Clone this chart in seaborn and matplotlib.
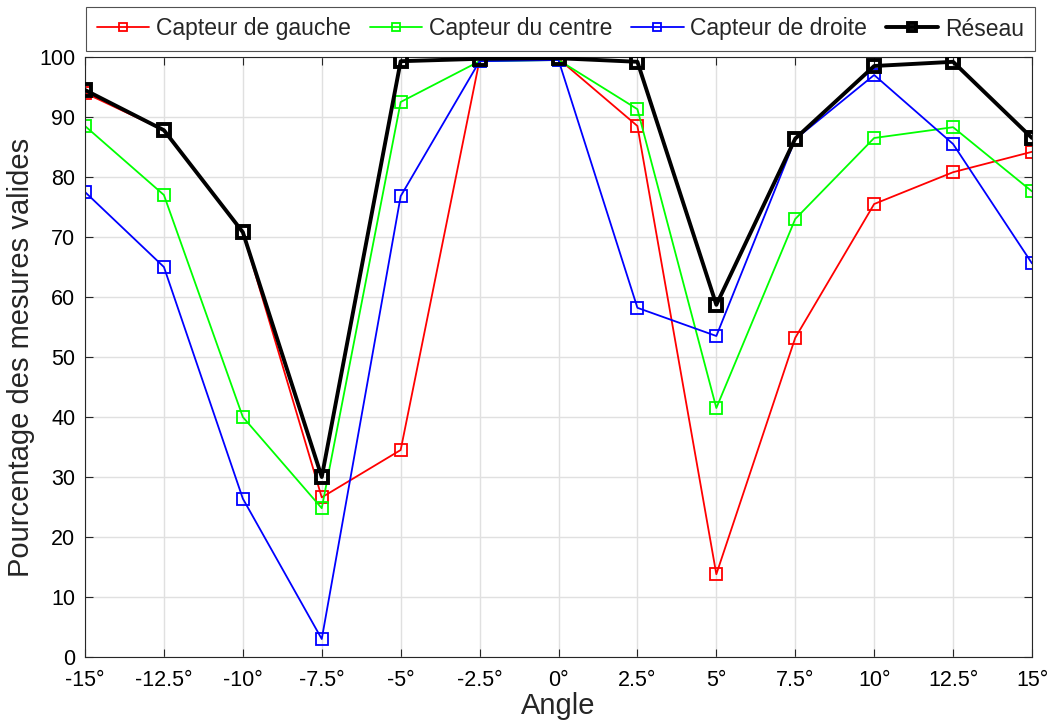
import numpy as np
import pandas as pd
import matplotlib
matplotlib.use("Agg")
import matplotlib.pyplot as plt
import seaborn as sns
from matplotlib.lines import Line2D

angles = [-15, -12.5, -10, -7.5, -5, -2.5, 0, 2.5, 5, 7.5, 10, 12.5, 15]
gauche = [94.0, 87.8, 70.8, 26.6, 34.5, 99.5, 99.7, 88.5, 13.8, 53.2, 75.5, 80.8, 84.2]
centre = [88.5, 77.0, 40.0, 24.8, 92.5, 99.3, 99.5, 91.3, 41.5, 73.0, 86.5, 88.3, 77.6]
droite = [77.5, 65.0, 26.4, 3.0, 76.8, 99.3, 99.5, 58.2, 53.5, 86.3, 97.0, 85.5, 65.6]
reseau = [94.5, 87.8, 70.8, 30.0, 99.3, 99.7, 99.8, 99.2, 58.7, 86.4, 98.5, 99.2, 86.5]
series_names = ["Capteur de gauche", "Capteur du centre", "Capteur de droite", "Réseau"]
colors = ["#ff0000", "#00ff00", "#0000ff", "#000000"]
x_ticklabels = ["-15°", "-12.5°", "-10°", "-7.5°", "-5°", "-2.5°", "0°", "2.5°", "5°", "7.5°", "10°", "12.5°", "15°"]
y_ticks = list(range(0, 101, 10))

df = pd.concat([
    pd.DataFrame({"Angle": angles, "val": v, "serie": n})
    for n, v in zip(series_names, [gauche, centre, droite, reseau])
])

sns.set_theme(style="white")
plt.rcParams["font.family"] = ["Liberation Sans", "DejaVu Sans"]

fig = plt.figure(figsize=(10.49, 7.26), dpi=100)
ax = fig.add_axes([85/1049, 1-657/726, (1032-85)/1049, 600/726])

sns.lineplot(data=df, x="Angle", y="val", hue="serie", hue_order=series_names,
             palette=dict(zip(series_names, colors)), marker="s", ax=ax,
             markerfacecolor="none", markersize=8, linewidth=1.3, legend=False)

for line, name, c in zip(ax.get_lines(), series_names, colors):
    line.set_markeredgecolor(c)
    line.set_markerfacecolor("none")
    if name == "Réseau":
        line.set_linewidth(2.8)
        line.set_markeredgewidth(2.8)
        line.set_zorder(5)
    else:
        line.set_markeredgewidth(1.3)

ax.set_xlim(-15, 15)
ax.set_ylim(0, 100)
ax.set_xticks(angles)
ax.set_xticklabels(x_ticklabels)
ax.set_yticks(y_ticks)
ax.grid(True, color="#e0e0e0", linewidth=1)
ax.tick_params(axis="both", direction="in", length=6, width=0.8, labelsize=15.5,
               colors="#262626", top=True, right=True, bottom=True, left=True)
ax.tick_params(axis="x", pad=9)
ax.tick_params(axis="y", pad=7)
for lbl in ax.get_xticklabels() + ax.get_yticklabels():
    lbl.set_color("black")
for s in ax.spines.values():
    s.set_visible(True)
    s.set_color("#262626")
    s.set_linewidth(0.8)
ax.set_xlabel("Angle", fontsize=21, labelpad=1)
ax.set_ylabel("Pourcentage des mesures valides", fontsize=21, labelpad=3)

handles = []
for name, c in zip(series_names, colors):
    lw = 2.8 if name == "Réseau" else 1.3
    handles.append(Line2D([], [], color=c, marker="s", markerfacecolor="none",
                          markeredgecolor=c, markersize=6, linewidth=lw, markeredgewidth=lw))
leg = fig.legend(handles, series_names, loc="center", ncol=4,
                 bbox_to_anchor=((88+1033)/2/1049, 1-29/726), fontsize=16.5,
                 frameon=True, fancybox=False, edgecolor="#262626",
                 handlelength=2.3, handletextpad=0.3, columnspacing=0.8,
                 borderpad=0.45)
leg.get_frame().set_linewidth(0.8)

fig.savefig("out.png", dpi=100)
